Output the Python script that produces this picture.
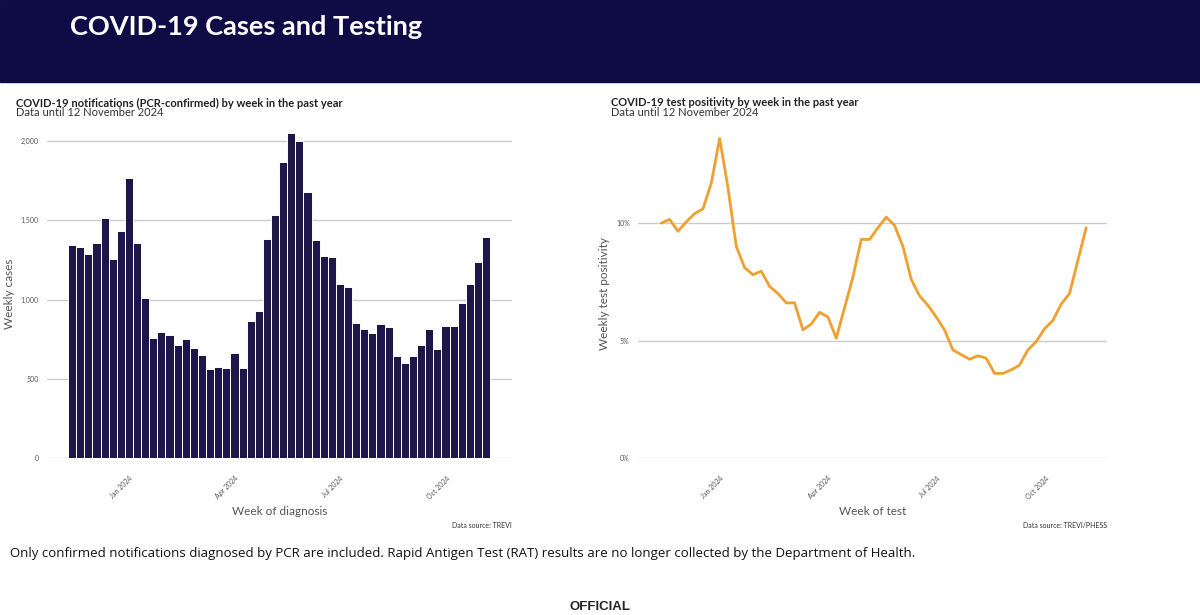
import numpy as np, pandas as pd, seaborn as sns, matplotlib
matplotlib.use("Agg")
import matplotlib.pyplot as plt
from matplotlib.patches import Rectangle
from matplotlib.ticker import FuncFormatter, FixedLocator

sns.set_theme(style="white")
plt.rcParams['font.family'] = ['Lato', 'DejaVu Sans']

week_start = "2023-11-13"
cases = [1345,1330,1290,1360,1515,1255,1430,1765,1355,1010,760,795,775,715,748,695,650,562,572,568,
         660,567,865,930,1385,1535,1870,2050,2000,1680,1375,1275,1270,1100,1080,850,815,790,845,825,
         645,600,645,715,815,690,835,835,980,1100,1240,1395]
positivity = [10.0,10.15,9.65,10.05,10.4,10.6,11.7,13.6,11.5,9.0,8.1,7.8,7.95,7.3,7.0,6.6,6.6,5.45,5.7,6.2,
              6.0,5.1,6.4,7.7,9.3,9.3,9.8,10.25,9.9,9.0,7.6,6.9,6.5,6.0,5.45,4.6,4.4,4.2,4.35,4.25,
              3.6,3.6,3.75,3.95,4.6,4.95,5.5,5.85,6.55,7.0,8.4,9.8]
tick_dates = ["2024-01-01","2024-04-01","2024-07-01","2024-10-01"]
tick_labels = ["Jan 2024","Apr 2024","Jul 2024","Oct 2024"]
case_ticks = [0,500,1000,1500,2000]
pos_ticks = [0,5,10]

weeks = pd.date_range(week_start, periods=len(cases), freq="7D")
df = pd.DataFrame({"idx": np.arange(len(cases)), "week": weeks, "cases": cases, "pos": positivity})
tick_pos = [(pd.Timestamp(d) - weeks[0]).days / 7 for d in tick_dates]

fig = plt.figure(figsize=(12, 6.15), dpi=100)
fig.patch.set_facecolor("white")
fig.add_artist(Rectangle((0, 1-82/615), 1, 82/615, transform=fig.transFigure, color="#0f0b45", zorder=0))
fig.text(70/1200, 1-27/615, "COVID-19 Cases and Testing", color="white", fontsize=19.5, fontweight="bold", va="center")

grey = "#555555"
ax1 = fig.add_axes([47/1200, 1-458/615, 465/1200, 328/615])
sns.barplot(data=df, x="idx", y="cases", color="#1e1648", width=1.0, edgecolor="white", linewidth=0.7,
            saturation=1, ax=ax1)
ax1.set_xlim(-3.1, 54.2); ax1.set_ylim(0, 2070)
ax1.yaxis.set_major_locator(FixedLocator(case_ticks))
ax1.yaxis.set_major_formatter(FuncFormatter(lambda v, p: f"{int(v):,}"))
ax1.set_xticks(tick_pos); ax1.set_xticklabels(tick_labels, rotation=45, ha="right", rotation_mode="anchor")
ax1.set_xlabel("Week of diagnosis", fontsize=8.5, color=grey)
ax1.set_ylabel("Weekly cases", fontsize=8.5, color=grey)

ax2 = fig.add_axes([638/1200, 1-458/615, 469/1200, 329/615])
sns.lineplot(data=df, x="idx", y="pos", color="#f0a030", linewidth=2, ax=ax2)
ax2.set_xlim(-2.8, 53.5); ax2.set_ylim(0, 14)
ax2.yaxis.set_major_locator(FixedLocator(pos_ticks))
ax2.yaxis.set_major_formatter(FuncFormatter(lambda v, p: f"{int(v)}%"))
ax2.set_xticks(tick_pos); ax2.set_xticklabels(tick_labels, rotation=45, ha="right", rotation_mode="anchor")
ax2.set_xlabel("Week of test", fontsize=8.5, color=grey)
ax2.set_ylabel("Weekly test positivity", fontsize=8.5, color=grey)

for ax in (ax1, ax2):
    for s in ax.spines.values(): s.set_visible(False)
    ax.yaxis.grid(True, color="#cccccc", linewidth=1); ax.set_axisbelow(True)
    ax.tick_params(axis="both", labelsize=5, colors=grey, length=0)
    ax.tick_params(axis="x", pad=12)
    ax.tick_params(axis="y", pad=6)
    ax.xaxis.labelpad = 4

fig.text(16/1200, 1-103/615, "COVID-19 notifications (PCR-confirmed) by week in the past year", fontsize=8, fontweight="bold", color="#222222", va="center")
fig.text(16/1200, 1-112/615, "Data until 12 November 2024", fontsize=8, color="#333333", va="center")
fig.text(611/1200, 1-103/615, "COVID-19 test positivity by week in the past year", fontsize=8, fontweight="bold", color="#222222", va="center")
fig.text(611/1200, 1-112/615, "Data until 12 November 2024", fontsize=8, color="#333333", va="center")
fig.text(512/1200, 1-525/615, "Data source: TREVI", fontsize=5, color="#333333", ha="right", va="center")
fig.text(1107/1200, 1-525/615, "Data source: TREVI/PHESS", fontsize=5, color="#333333", ha="right", va="center")
fig.text(10/1200, 1-553/615, "Only confirmed notifications diagnosed by PCR are included. Rapid Antigen Test (RAT) results are no longer collected by the Department of Health.",
         fontsize=9.5, color="#111111", va="center", family=["Open Sans", "DejaVu Sans"])
fig.text(0.5, 1-607/615, "OFFICIAL", fontsize=9.5, fontweight="bold", ha="center", va="center", family=["Liberation Sans", "DejaVu Sans"])
fig.savefig("out.png", dpi=100)
